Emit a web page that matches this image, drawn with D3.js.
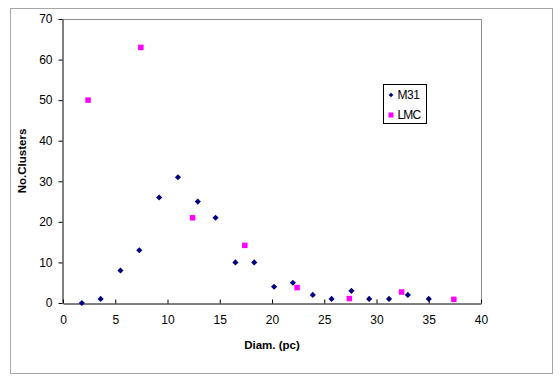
<!DOCTYPE html>
<html>
<head>
<meta charset="utf-8">
<script src="https://cdn.jsdelivr.net/npm/d3@7"></script>
<style>
  html, body { margin: 0; padding: 0; background: #fff; }
  svg text { font-family: "Liberation Sans", Arial, sans-serif; }
</style>
</head>
<body>
<svg id="chart" width="560" height="382"></svg>
<script>
// Data
const m31X = [1.8, 3.6, 5.5, 7.3, 9.2, 11.0, 12.9, 14.6, 16.5, 18.3, 20.2, 22.0, 23.9, 25.7, 27.6, 29.3, 31.2, 33.0, 35.0];
const m31Y = [0, 1, 8, 13, 26, 31, 25, 21, 10, 10, 4, 5, 2, 1, 3, 1, 1, 2, 1];
const lmcX = [2.4, 7.45, 12.4, 17.4, 22.4, 27.4, 32.4, 37.4];
const lmcY = [50, 63, 21, 14.2, 3.8, 1.1, 2.7, 0.9];
const xTicks = [0, 5, 10, 15, 20, 25, 30, 35, 40];
const yTicks = [0, 10, 20, 30, 40, 50, 60, 70];
const seriesNames = ["M31", "LMC"];
const seriesColors = ["#000080", "#FF00FF"];

const svg = d3.select("#chart");
const plot = { left: 63, top: 19, right: 481, bottom: 303 };

// Outer chart frame
svg.append("rect")
  .attr("x", 10.5).attr("y", 8.5)
  .attr("width", 542).attr("height", 365)
  .attr("fill", "#fff").attr("stroke", "#a6a6a6").attr("stroke-width", 1);

const x = d3.scaleLinear().domain([0, 40]).range([plot.left, plot.right]);
const y = d3.scaleLinear().domain([0, 70]).range([plot.bottom, plot.top]);

// Plot area border (top and right grey)
svg.append("path")
  .attr("d", `M${plot.left},${plot.top + 0.5}H${plot.right + 0.5}V${plot.bottom}`)
  .attr("fill", "none").attr("stroke", "#8c8c8c").attr("stroke-width", 1);

// X axis (ticks inside)
const xAxis = svg.append("g")
  .attr("transform", `translate(0,${plot.bottom + 0.5})`)
  .call(d3.axisBottom(x).tickValues(xTicks).tickSizeInner(-4).tickSizeOuter(0).tickPadding(12));
xAxis.select(".domain").attr("stroke", "#000");
xAxis.selectAll(".tick line").attr("stroke", "#000");
xAxis.selectAll("text").attr("font-size", 12).attr("fill", "#000")
  .attr("font-family", "'Liberation Sans', Arial, sans-serif");

// Y axis (ticks outside)
const yAxis = svg.append("g")
  .attr("transform", `translate(${plot.left - 0.5},0)`)
  .call(d3.axisLeft(y).tickValues(yTicks).tickSizeInner(4).tickSizeOuter(0).tickPadding(6));
yAxis.select(".domain").attr("stroke", "#000");
yAxis.selectAll(".tick line").attr("stroke", "#000");
yAxis.selectAll("text").attr("font-size", 12).attr("fill", "#000")
  .attr("font-family", "'Liberation Sans', Arial, sans-serif");

// Axis titles
svg.append("text")
  .attr("x", (plot.left + plot.right) / 2).attr("y", 349)
  .attr("text-anchor", "middle").attr("font-size", 11.5).attr("font-weight", "bold")
  .text("Diam. (pc)");
svg.append("text")
  .attr("transform", `translate(26,${(plot.top + plot.bottom) / 2}) rotate(-90)`)
  .attr("text-anchor", "middle").attr("font-size", 11.5).attr("font-weight", "bold")
  .text("No.Clusters");

// Markers
const diamond = d3.symbol().type(d3.symbolDiamond2).size(24);
const m31 = m31X.map((v, i) => ({ x: v, y: m31Y[i] }));
const lmc = lmcX.map((v, i) => ({ x: v, y: lmcY[i] }));

svg.append("g").selectAll("path").data(m31).join("path")
  .attr("d", diamond)
  .attr("transform", d => `translate(${x(d.x)},${y(d.y)})`)
  .attr("fill", seriesColors[0]);

const sq = 5.5;
svg.append("g").selectAll("rect").data(lmc).join("rect")
  .attr("x", d => x(d.x) - sq / 2).attr("y", d => y(d.y) - sq / 2)
  .attr("width", sq).attr("height", sq)
  .attr("fill", seriesColors[1]);

// Legend
const lg = svg.append("g");
lg.append("rect")
  .attr("x", 383.5).attr("y", 84.5).attr("width", 43).attr("height", 39)
  .attr("fill", "#fff").attr("stroke", "#000").attr("stroke-width", 1);
lg.append("path").attr("d", d3.symbol().type(d3.symbolDiamond2).size(14)())
  .attr("transform", "translate(391,95)").attr("fill", seriesColors[0]);
lg.append("rect").attr("x", 388.5).attr("y", 112.5).attr("width", 5).attr("height", 5)
  .attr("fill", seriesColors[1]);
lg.append("text").attr("x", 397.5).attr("y", 98.5).attr("font-size", 12)
  .attr("letter-spacing", -0.5).text(seriesNames[0]);
lg.append("text").attr("x", 397.5).attr("y", 118.5).attr("font-size", 12)
  .attr("letter-spacing", -0.8).text(seriesNames[1]);
</script>
</body>
</html>
